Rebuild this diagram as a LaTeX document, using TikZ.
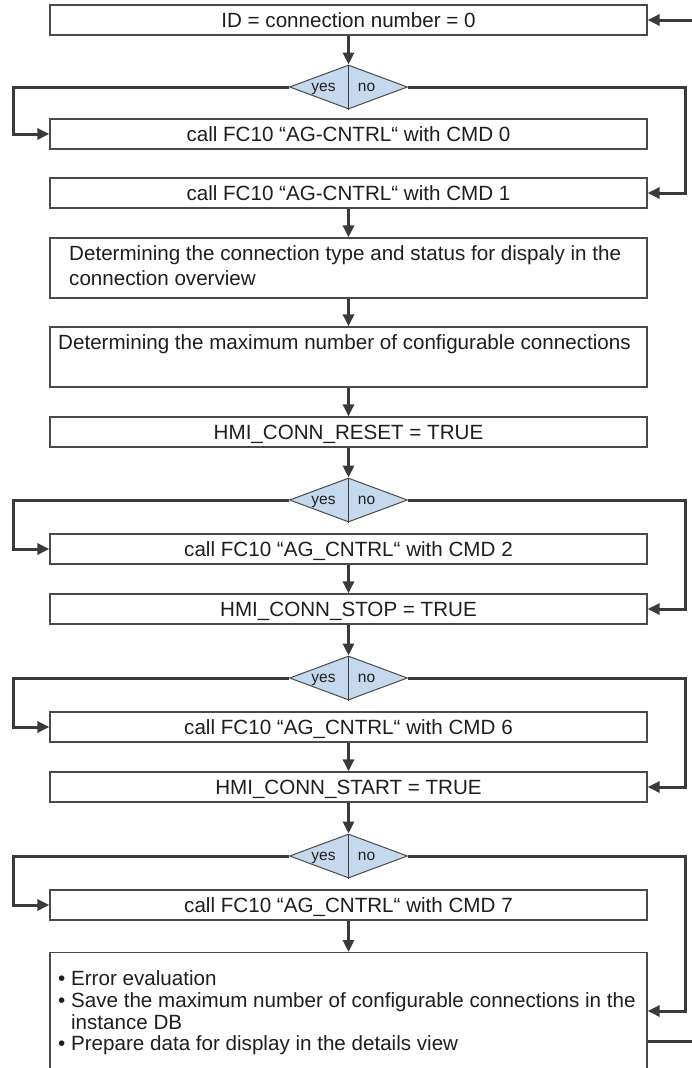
\documentclass[tikz,border=0pt]{standalone}
\usepackage{fontspec}
\setmainfont{Liberation Sans}
\usetikzlibrary{shapes.geometric,arrows.meta,calc}
\definecolor{conncol}{HTML}{3A3A3A}
\definecolor{boxcol}{HTML}{4A4A4A}
\definecolor{dfill}{HTML}{C5D9EE}
\definecolor{txtcol}{HTML}{1E1E1E}
\newcommand\boxfnt{\fontsize{20.6}{25}\selectfont}
\newcommand\listfnt{\fontsize{20.6}{21.7}\selectfont}
\newcommand\decfnt{\fontsize{15.5}{18}\selectfont}
\begin{document}
\begin{tikzpicture}[x=1pt,y=-1pt,
  flowbox/.style={draw=boxcol,line width=1.3pt,rectangle,minimum width=597pt,
    minimum height=30pt,inner sep=0pt,font=\boxfnt,text=txtcol},
  sbox/.style={flowbox,text height=15pt,text depth=0pt},
  btext/.style={inner sep=0pt,align=left,font=\boxfnt,text=txtcol},
  decision/.style={draw=boxcol,line width=1pt,diamond,fill=dfill,
    minimum width=118pt,minimum height=44pt,inner sep=0pt},
  divider/.style={draw=conncol,line width=1.4pt},
  conn/.style={draw=conncol,line width=3pt,line join=miter,
    -{Triangle[length=12pt,width=11pt]}},
  connline/.style={draw=conncol,line width=3pt},
  dtext/.style={font=\decfnt,text=txtcol,inner sep=0pt,text height=8pt,text depth=0pt}]
\useasboundingbox (0,0) rectangle (692,1068);
\clip (0,0) rectangle (692,1068);

\coordinate (lx) at (13,0);
\coordinate (rx) at (685,0);

% boxes
\node[sbox] (b1) at (348.5,20) {ID = connection number = 0};
\node[decision] (d1) at (348.5,87) {};
\node[sbox] (c0) at (348.5,134) {call FC10 “AG-CNTRL“ with CMD 0};
\node[sbox] (c1) at (348.5,193) {call FC10 “AG-CNTRL“ with CMD 1};
\node[flowbox,minimum height=60pt] (b3) at (348.5,268) {};
\node[btext,anchor=west] (b3txt) at (69,267.8)
  {\strut Determining the connection type and status for dispaly in the\\\strut connection overview};
\node[flowbox,minimum height=60pt] (b4) at (348.5,357) {};
\node[btext,anchor=west] (b4txt) at (58,344.3)
  {\strut Determining the maximum number of configurable connections};
\node[sbox] (reset) at (348.5,432) {HMI\_CONN\_RESET = TRUE};
\node[decision] (d2) at (348.5,500) {};
\node[sbox] (c2) at (348.5,549) {call FC10 “AG\_CNTRL“ with CMD 2};
\node[sbox] (stop) at (348.5,609) {HMI\_CONN\_STOP = TRUE};
\node[decision] (d3) at (348.5,678) {};
\node[sbox] (c6) at (348.5,727) {call FC10 “AG\_CNTRL“ with CMD 6};
\node[sbox] (start) at (348.5,787) {HMI\_CONN\_START = TRUE};
\node[decision] (d4) at (348.5,856) {};
\node[sbox] (c7) at (348.5,905) {call FC10 “AG\_CNTRL“ with CMD 7};
\node[flowbox,anchor=north,minimum height=128pt] (last) at (348.5,952) {};
\node[anchor=north west,inner sep=0pt,align=left,font=\listfnt,text=txtcol] (lasttxt) at (58,970.3)
  {\strut • Error evaluation\\
   • Save the maximum number of configurable connections in the\\
   \hphantom{• }instance DB\\
   • Prepare data for display in the details view};

% diamond dividers and labels
\foreach \d in {d1,d2,d3,d4}{
  \draw[divider] (\d.north) -- (\d.south);
  \node[dtext] (\d yes) at ($(\d.center)+(-25,0)$) {yes};
  \node[dtext] (\d no) at ($(\d.center)+(18,0)$) {no};
}

\coordinate (lastin) at (last.east |- 0,1011);
\coordinate (lastout) at (last.east |- 0,1041);
\coordinate (edgeout) at (692,1041);
\coordinate (edgein) at (692,20);

% connectors
\draw[conn] (edgein) -- (b1.east);
\draw[conn] (b1.south) -- (d1.north);
\draw[conn] (d1.west) -- (d1.west -| lx) |- (c0.west);
\draw[conn] (d1.east) -- (d1.east -| rx) |- (c1.east);
\draw[conn] (c1.south) -- (b3.north);
\draw[conn] (b3.south) -- (b4.north);
\draw[conn] (b4.south) -- (reset.north);
\draw[conn] (reset.south) -- (d2.north);
\draw[conn] (d2.west) -- (d2.west -| lx) |- (c2.west);
\draw[conn] (d2.east) -- (d2.east -| rx) |- (stop.east);
\draw[conn] (c2.south) -- (stop.north);
\draw[conn] (stop.south) -- (d3.north);
\draw[conn] (d3.west) -- (d3.west -| lx) |- (c6.west);
\draw[conn] (d3.east) -- (d3.east -| rx) |- (start.east);
\draw[conn] (c6.south) -- (start.north);
\draw[conn] (start.south) -- (d4.north);
\draw[conn] (d4.west) -- (d4.west -| lx) |- (c7.west);
\draw[conn] (d4.east) -- (d4.east -| rx) |- (lastin);
\draw[conn] (c7.south) -- (last.north);
\draw[connline] (lastout) -- (edgeout);
\end{tikzpicture}
\end{document}
